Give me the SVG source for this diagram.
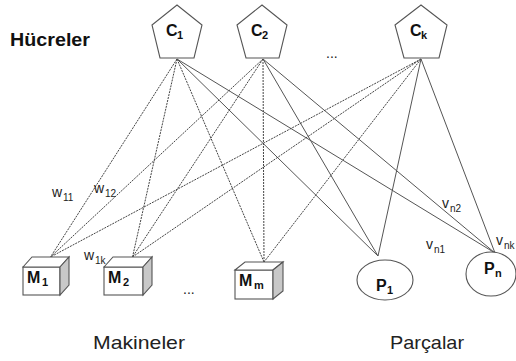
<svg xmlns="http://www.w3.org/2000/svg" width="516" height="361" viewBox="0 0 516 361">
<style>
.n{fill:#fff;stroke:#555;stroke-width:1.1}
.side{fill:#c8c8c8;stroke:#555;stroke-width:1.1}
.d{stroke:#444;stroke-width:1;stroke-dasharray:2,1;fill:none}
.s{stroke:#555;stroke-width:1;fill:none}
.lb{font-family:"Liberation Sans",Arial,sans-serif;font-weight:bold;font-size:16px;fill:#111}
.sb{font-family:"Liberation Sans",Arial,sans-serif;font-weight:bold;font-size:11px;fill:#111}
.w{font-family:"Liberation Sans",Arial,sans-serif;font-size:14px;fill:#222}
.ws{font-family:"Liberation Sans",Arial,sans-serif;font-size:10px;fill:#222}
.t{font-family:"Liberation Sans",Arial,sans-serif;font-size:19px;fill:#222}
</style>
<rect width="516" height="361" fill="#fff"/>
<g id="connectors">
<line class="d" x1="177" y1="59" x2="50.5" y2="257"/>
<line class="d" x1="177" y1="59" x2="132.5" y2="257"/>
<line class="d" x1="177" y1="59" x2="264" y2="262"/>
<line class="s" x1="177" y1="59" x2="378" y2="256"/>
<line class="s" x1="177" y1="59" x2="495" y2="253"/>
<line class="d" x1="263" y1="59" x2="50.5" y2="257"/>
<line class="d" x1="263" y1="59" x2="132.5" y2="257"/>
<line class="d" x1="263" y1="59" x2="264" y2="262"/>
<line class="s" x1="263" y1="59" x2="378" y2="256"/>
<line class="s" x1="263" y1="59" x2="495" y2="253"/>
<line class="d" x1="421" y1="59" x2="50.5" y2="257"/>
<line class="d" x1="421" y1="59" x2="132.5" y2="257"/>
<line class="d" x1="421" y1="59" x2="264" y2="262"/>
<line class="s" x1="421" y1="59" x2="378" y2="256"/>
<line class="s" x1="421" y1="59" x2="495" y2="253"/>
</g>
<text x="10" y="46" font-family="Liberation Sans,Arial,sans-serif" font-weight="bold" font-size="18" fill="#111" textLength="80" lengthAdjust="spacingAndGlyphs">Hücreler</text>
<g id="C1">
<polygon class="n" points="177,5 202,25 194,58 160,58 152,25"/>
<text class="lb" x="166" y="36">C</text><text class="sb" x="177" y="39">1</text>
</g>
<g id="C2">
<polygon class="n" points="262,5 287,25 279,58 246,58 237,25"/>
<text class="lb" x="251" y="36">C</text><text class="sb" x="262" y="39">2</text>
</g>
<g id="Ck">
<polygon class="n" points="421,5 447,25 439,58 404,58 395,25"/>
<text class="lb" x="410" y="36">C</text><text class="sb" x="421" y="39">k</text>
</g>
<text class="w" x="326" y="58">...</text>
<g id="M1">
<rect class="n" x="23" y="267" width="37" height="28"/>
<polygon class="n" points="23,267 32,257 69,257 60,267"/>
<polygon class="side" points="60,267 69,257 69,285 60,295"/>
<text class="lb" x="27" y="283">M</text><text class="sb" x="42" y="286">1</text>
</g>
<g id="M2">
<rect class="n" x="104" y="267" width="39" height="28"/>
<polygon class="n" points="104,267 113,257 152,257 143,267"/>
<polygon class="side" points="143,267 152,257 152,285 143,295"/>
<text class="lb" x="108" y="283">M</text><text class="sb" x="123" y="286">2</text>
</g>
<text class="w" x="183" y="294">...</text>
<g id="Mm">
<rect class="n" x="235" y="270" width="38" height="29"/>
<polygon class="n" points="235,270 245,262 283,262 273,270"/>
<polygon class="side" points="273,270 283,262 283,291 273,299"/>
<text class="lb" x="239" y="286">M</text><text class="sb" x="254" y="289">m</text>
</g>
<g id="P1">
<ellipse class="n" cx="385" cy="280" rx="28" ry="20"/>
<text class="lb" x="376" y="291">P</text><text class="sb" x="387" y="294">1</text>
</g>
<g id="Pn">
<ellipse class="n" cx="491" cy="274" rx="25" ry="22"/>
<text class="lb" x="484" y="274">P</text><text class="sb" x="495" y="277">n</text>
</g>
<g id="labels">
<text class="w" x="52" y="197">w</text><text class="ws" x="63" y="201">11</text>
<text class="w" x="94" y="193">w</text><text class="ws" x="105" y="197">12</text>
<text class="w" x="84" y="260">w</text><text class="ws" x="95" y="264">1k</text>
<text class="w" x="442" y="208">v</text><text class="ws" x="450" y="212">n2</text>
<text class="w" x="426" y="249">v</text><text class="ws" x="434" y="253">n1</text>
<text class="w" x="496" y="245">v</text><text class="ws" x="504" y="249">nk</text>
</g>
<text class="t" x="93" y="349" textLength="92" lengthAdjust="spacingAndGlyphs">Makineler</text>
<text class="t" x="390" y="349" textLength="74" lengthAdjust="spacingAndGlyphs">Parçalar</text>
</svg>
